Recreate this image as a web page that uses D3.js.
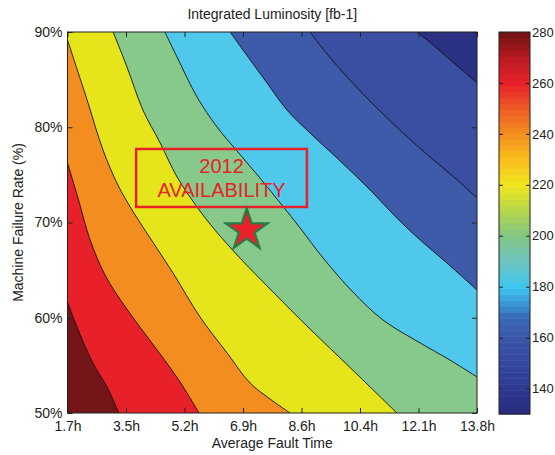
<!DOCTYPE html>
<html><head><meta charset="utf-8">
<script src="https://cdn.jsdelivr.net/npm/d3@7"></script>
<style>body{margin:0;background:#fff}</style>
</head><body><svg id="c" width="555" height="455"></svg>
<script>
// ---------- data ----------
const xTickValues = [1.73, 3.46, 5.19, 6.92, 8.65, 10.38, 12.11, 13.84];
const xTickLabels = ["1.7h", "3.5h", "5.2h", "6.9h", "8.6h", "10.4h", "12.1h", "13.8h"];
const yTickValues = [50, 60, 70, 80, 90];
const yTickLabels = ["50%", "60%", "70%", "80%", "90%"];
const cbTickValues = [140, 160, 180, 200, 220, 240, 260, 280];
const cbDomain = [130, 280];

// contour boundary lines, [fault time h, failure rate %], from upper-right (low) to lower-left (high)
const lineDarkBlue = [[12.07,90],[12.51,88.74],[12.95,87.37],[13.40,86.01],[13.84,84.65]];
const lineBlue2 = [[8.90,90],[9.43,87.58],[10.08,84.96],[10.82,82.23],[11.65,79.40],[12.45,76.88],[13.19,74.67],[13.84,72.57]];
const lineBlue = [[6.54,90],[6.92,88.11],[7.63,84.65],[8.22,81.81],[8.90,79.40],[9.70,76.77],[10.68,73.41],[11.47,70.47],[12.16,68.16],[12.95,65.75],[13.84,62.91]];
const lineCyan = [[4.61,90],[4.97,87.37],[5.56,83.18],[6.15,80.03],[6.77,77.40],[7.42,74.67],[8.07,71.84],[8.61,69.42],[9.29,66.27],[10.17,62.70],[11.06,59.76],[12.16,57.35],[13.04,55.56],[13.84,53.78]];
const lineGreen = [[3.08,90],[3.49,86.32],[3.96,81.81],[4.47,78.35],[4.97,74.78],[5.56,71.63],[6.09,69.21],[6.83,66.27],[7.72,63.02],[8.69,59.55],[9.70,56.09],[10.68,52.73],[11.47,50]];
const lineYellow = [[1.73,89.16],[2.31,82.86],[2.78,77.61],[3.22,73.94],[3.64,71.31],[3.96,69.53],[4.85,64.70],[5.65,60.08],[6.45,56.30],[7.13,53.15],[7.72,51.47],[8.31,50]];
const lineOrange = [[1.73,76.25],[2.04,72.57],[2.40,68.16],[2.84,64.49],[3.34,61.65],[3.87,59.03],[4.47,56.19],[5.06,53.25],[5.62,50]];
const lineRed = [[1.73,61.65],[2.01,59.03],[2.48,55.25],[2.90,52.73],[3.25,50]];

const star2012 = [7.03, 69.2];
const boxX = [3.76, 8.81], boxY = [71.63, 77.72];

// ---------- style ----------
const baseColor = "#2b3183";
const bands = [
  {pts: lineDarkBlue, fill: "#3a4fa1"},
  {pts: lineBlue2, fill: "#3d5ba9"},
  {pts: lineBlue, fill: "#50c8ec"},
  {pts: lineCyan, fill: "#86c98b"},
  {pts: lineGreen, fill: "#e6e51b"},
  {pts: lineYellow, fill: "#f38d1f"},
  {pts: lineOrange, fill: "#e8202a"},
  {pts: lineRed, fill: "#741518"}
];
const cmapStops = [130,140,150,160,168,175,180,190,200,210,220,230,240,250,260,270,280];
const cmapColors = ["#27297c","#2e3a90","#3447a0","#3a56a6","#3a6bb8","#3aa4dc","#3ec6ee","#6ec4c0","#82c683","#b6d54a","#f0e61c","#f9bd1a","#f38e1e","#ee5a24","#e8212a","#b81a20","#6e1214"];

const font = "'Liberation Sans', Arial, Helvetica, sans-serif";
const m = {l: 67.5, r: 477, t: 32, b: 413};
const svg = d3.select("#c");
const x = d3.scaleLinear().domain([1.73, 13.84]).range([m.l, m.r]);
const y = d3.scaleLinear().domain([50, 90]).range([m.b, m.t]);

svg.append("defs").append("clipPath").attr("id", "pc").append("rect")
  .attr("x", m.l).attr("y", m.t).attr("width", m.r - m.l).attr("height", m.b - m.t);
const g = svg.append("g").attr("clip-path", "url(#pc)");
g.append("rect").attr("x", m.l).attr("y", m.t).attr("width", m.r - m.l).attr("height", m.b - m.t).attr("fill", baseColor);

const [x0, x1] = x.domain(), [y0, y1] = y.domain();
const curve = d3.line().x(d => x(d[0])).y(d => y(d[1])).curve(d3.curveCatmullRom.alpha(0.5));
bands.forEach(b => {
  const corners = [[x1, y0], [x0, y0], [x0, y1]];
  const d = curve(b.pts) + corners.map(c => "L" + x(c[0]) + "," + y(c[1])).join("") + "Z";
  g.append("path").attr("d", d).attr("fill", b.fill);
});
bands.forEach(b => {
  g.append("path").attr("d", curve(b.pts)).attr("fill", "none").attr("stroke", "#111").attr("stroke-width", 0.9);
});

// axes
function styleAxis(sel, size) {
  sel.select(".domain").remove();
  sel.selectAll(".tick line").attr("stroke", "#222");
  sel.selectAll("text").attr("font-family", font).attr("font-size", size || 14).attr("fill", "#222");
}
svg.append("g").attr("transform", `translate(0,${m.b})`)
  .call(d3.axisBottom(x).tickValues(xTickValues).tickFormat((d, i) => xTickLabels[i]).tickSizeInner(-5).tickSizeOuter(0).tickPadding(8))
  .call(styleAxis);
svg.append("g").attr("transform", `translate(0,${m.t})`)
  .call(d3.axisTop(x).tickValues(xTickValues).tickFormat("").tickSizeInner(-5).tickSizeOuter(0))
  .call(styleAxis);
svg.append("g").attr("transform", `translate(${m.l},0)`)
  .call(d3.axisLeft(y).tickValues(yTickValues).tickFormat((d, i) => yTickLabels[i]).tickSizeInner(-5).tickSizeOuter(0).tickPadding(5))
  .call(styleAxis);
svg.append("g").attr("transform", `translate(${m.r},0)`)
  .call(d3.axisRight(y).tickValues(yTickValues).tickFormat("").tickSizeInner(-5).tickSizeOuter(0))
  .call(styleAxis);
svg.append("rect").attr("x", m.l).attr("y", m.t).attr("width", m.r - m.l).attr("height", m.b - m.t)
  .attr("fill", "none").attr("stroke", "#222").attr("stroke-width", 1);

// annotation
svg.append("rect").attr("x", x(boxX[0])).attr("y", y(boxY[1]))
  .attr("width", x(boxX[1]) - x(boxX[0])).attr("height", y(boxY[0]) - y(boxY[1]))
  .attr("fill", "none").attr("stroke", "#e8212a").attr("stroke-width", 2.5);
const bx = (x(boxX[0]) + x(boxX[1])) / 2;
svg.append("text").attr("x", bx).attr("y", 173).attr("text-anchor", "middle")
  .attr("font-family", font).attr("font-size", 20).attr("fill", "#e8212a").text("2012");
svg.append("text").attr("x", bx).attr("y", 197).attr("text-anchor", "middle")
  .attr("font-family", font).attr("font-size", 20).attr("fill", "#e8212a").text("AVAILABILITY");
svg.append("path").attr("d", d3.symbol(d3.symbolStar, 540)())
  .attr("transform", `translate(${x(star2012[0])},${y(star2012[1])})`)
  .attr("fill", "#e8212a").attr("stroke", "#2a7a45").attr("stroke-width", 2.2).attr("stroke-linejoin", "miter");

// titles
svg.append("text").attr("x", (m.l + m.r) / 2).attr("y", 18.5).attr("text-anchor", "middle")
  .attr("font-family", font).attr("font-size", 14).attr("fill", "#222").text("Integrated Luminosity [fb-1]");
svg.append("text").attr("x", (m.l + m.r) / 2).attr("y", 448).attr("text-anchor", "middle")
  .attr("font-family", font).attr("font-size", 14).attr("fill", "#222").text("Average Fault Time");
svg.append("text").attr("transform", `translate(23,${(m.t + m.b) / 2}) rotate(-90)`).attr("text-anchor", "middle")
  .attr("font-family", font).attr("font-size", 14).attr("fill", "#222").text("Machine Failure Rate (%)");

// colorbar
const cb = {l: 499, r: 530, t: 32, b: 414};
const cy = d3.scaleLinear().domain(cbDomain).range([cb.b, cb.t]);
const cmap = d3.scaleLinear().domain(cmapStops).range(cmapColors).interpolate(d3.interpolateRgb);
const nSteps = 64;
const step = (cbDomain[1] - cbDomain[0]) / nSteps;
svg.append("g").selectAll("rect").data(d3.range(nSteps)).join("rect")
  .attr("x", cb.l).attr("width", cb.r - cb.l)
  .attr("y", i => cy(cbDomain[0] + (i + 1) * step))
  .attr("height", i => cy(cbDomain[0] + i * step) - cy(cbDomain[0] + (i + 1) * step) + 0.5)
  .attr("fill", i => cmap(cbDomain[0] + (i + 0.5) * step));
svg.append("g").attr("transform", `translate(${cb.r},0)`)
  .call(d3.axisRight(cy).tickValues(cbTickValues).tickSizeInner(-4).tickSizeOuter(0).tickPadding(2))
  .call(s => styleAxis(s, 13));
svg.append("g").attr("transform", `translate(${cb.l},0)`)
  .call(d3.axisLeft(cy).tickValues(cbTickValues).tickFormat("").tickSizeInner(-4).tickSizeOuter(0))
  .call(styleAxis);
svg.append("rect").attr("x", cb.l).attr("y", cb.t).attr("width", cb.r - cb.l).attr("height", cb.b - cb.t)
  .attr("fill", "none").attr("stroke", "#222").attr("stroke-width", 1);
</script>
</body></html>
